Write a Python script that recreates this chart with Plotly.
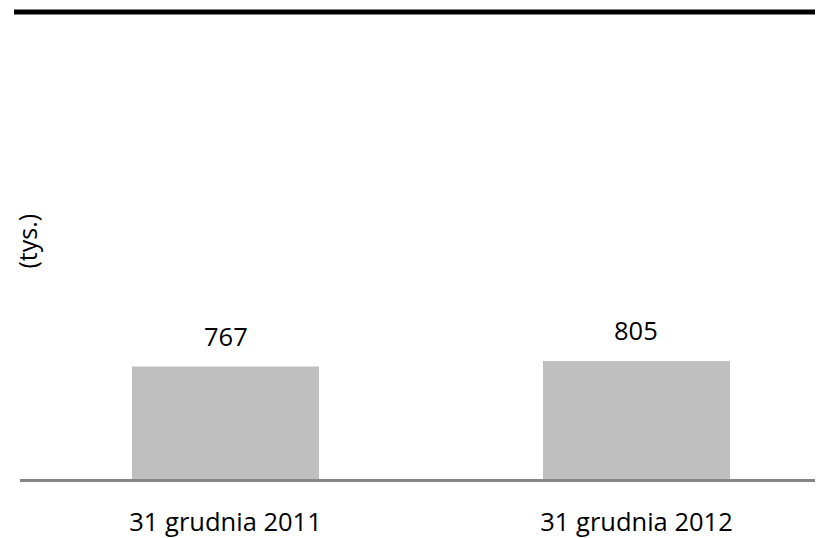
import plotly.graph_objects as go

categories = ["31 grudnia 2011", "31 grudnia 2012"]
values = [767, 805]
value_labels = ["767", "805"]
y_title = "(tys.)"

# figure is placed at an 8px page offset (default body margin)
W, H = 815, 530
ml, mr, mt, mb = 12, 0, 4, 52
pw, ph = W - ml - mr, H - mt - mb

FONT = "Open Sans"
FS = 25.5

fig = go.Figure()
fig.add_trace(go.Bar(
    x=categories, y=values,
    marker=dict(color="#BFBFBF", line=dict(width=0)),
    width=0.455,
    hoverinfo="skip",
))

annotations = []
for c, v, t in zip(categories, values, value_labels):
    annotations.append(dict(
        x=c, y=v, xref="x", yref="y", text=t, showarrow=False,
        xanchor="center", yanchor="bottom", yshift=12,
        font=dict(family=FONT, size=FS, color="#000000"),
    ))
annotations.append(dict(
    text=y_title, xref="paper", yref="paper",
    x=(19.5 - ml) / pw, y=(H - mb - 236.5) / ph,
    showarrow=False, textangle=-90,
    font=dict(family=FONT, size=25, color="#000000"),
    xanchor="center", yanchor="middle",
))

fig.update_layout(
    width=W, height=H,
    margin=dict(l=ml, r=mr, t=mt, b=mb, pad=0),
    paper_bgcolor="white", plot_bgcolor="white",
    showlegend=False,
    xaxis=dict(
        range=[-0.5, 1.4538],
        showline=True, linecolor="#868686", linewidth=3,
        showgrid=False, zeroline=False, ticks="",
        tickfont=dict(family=FONT, size=FS, color="#000000"),
        ticklabelstandoff=18,
    ),
    yaxis=dict(
        range=[0, 3184],
        showticklabels=False, showgrid=False, zeroline=False, showline=False,
    ),
    shapes=[dict(
        type="line", xref="paper", yref="paper",
        x0=(6 - ml) / pw, x1=1, y0=1, y1=1,
        line=dict(color="#000000", width=5),
    )],
    annotations=annotations,
)

fig.write_html("out.html")
